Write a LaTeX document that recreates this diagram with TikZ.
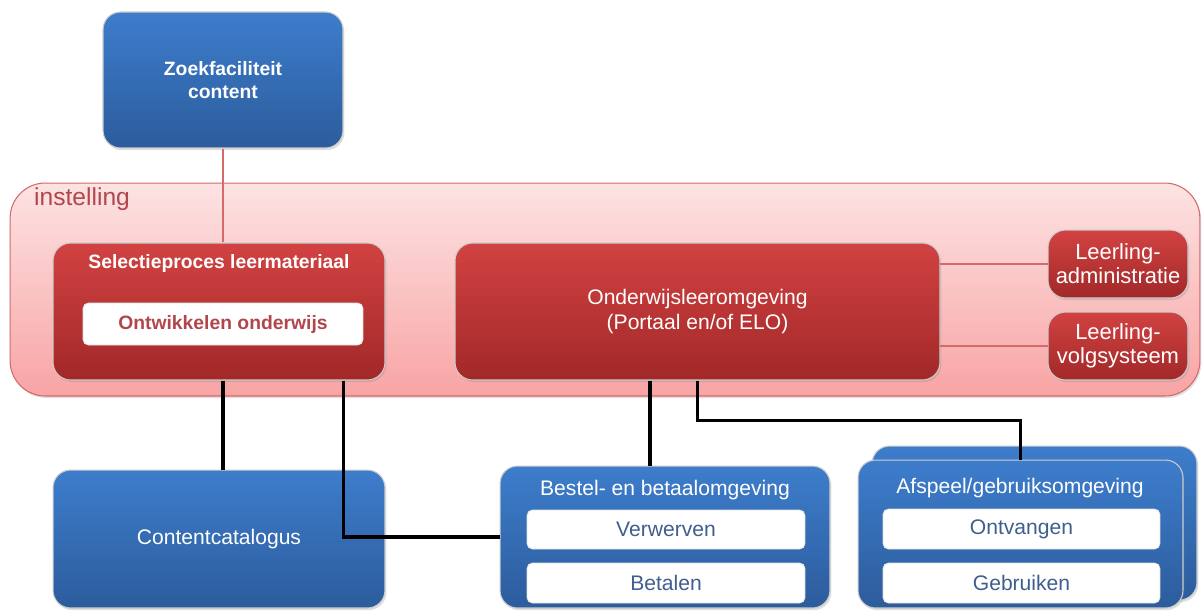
\documentclass[tikz,border=0pt]{standalone}
\usepackage{fontspec}
\setmainfont{Liberation Sans}
\usetikzlibrary{shadows,calc}
\definecolor{bluetop}{HTML}{3D7DCC}
\definecolor{bluebot}{HTML}{2C5C9C}
\definecolor{redtop}{HTML}{D24242}
\definecolor{redbot}{HTML}{A22828}
\definecolor{pinktop}{HTML}{FDE3E3}
\definecolor{pinkbot}{HTML}{F8A4A4}
\definecolor{pinkline}{HTML}{D46A6A}
\definecolor{darkrose}{HTML}{B2464D}
\definecolor{slateblue}{HTML}{3F5F8F}
\tikzset{
  box/.style={rectangle, rounded corners=10pt, draw=white!80!black, line width=0.6pt,
    drop shadow={opacity=0.25,shadow xshift=0.8pt,shadow yshift=-1.2pt}, inner sep=0pt, align=center},
  bluebox/.style={box, top color=bluetop, bottom color=bluebot, text=white},
  redbox/.style={box, top color=redtop, bottom color=redbot, text=white},
  inbox/.style={rectangle, rounded corners=3pt, fill=white, draw=black!12, inner sep=0pt, minimum height=0.8cm},
  boldtxt/.style={font=\bfseries\fontsize{11}{13}\selectfont},
  regtxt/.style={font=\fontsize{12}{14}\selectfont},
  smalltxt/.style={font=\fontsize{12.5}{13.6}\selectfont},
  thinline/.style={pinkline, line width=0.7pt},
  connline/.style={black, line width=1.8pt},
}
\begin{document}
\begin{tikzpicture}[x=0.02cm,y=-0.02cm]
\useasboundingbox (0,0) rectangle (1203,610);
% container
\node[rectangle, rounded corners=20pt, top color=pinktop, bottom color=pinkbot, draw=pinkline, line width=0.6pt,
  drop shadow={opacity=0.25,shadow xshift=0.8pt,shadow yshift=-1.2pt},
  minimum width=23.8cm, minimum height=4.26cm, inner sep=0pt] (inst) at (605,289.5) {};
\node[anchor=west, text=darkrose, font=\fontsize{14}{16}\selectfont] (instt) at (28,199) {instelling};
% top
\node[bluebox, boldtxt, minimum width=4.8cm, minimum height=2.72cm] (zoek) at (223,80) {Zoekfaciliteit\\content};
% selectie
\node[redbox, minimum width=6.64cm, minimum height=2.74cm] (sel) at (219,311.5) {};
\node[boldtxt, text=white] (selt) at (219,263) {Selectieproces leermateriaal};
\node[inbox, boldtxt, text=darkrose, minimum width=5.6cm, minimum height=0.84cm] (ontw) at (223,324) {Ontwikkelen onderwijs};
% onderwijs
\node[redbox, regtxt, minimum width=9.7cm, minimum height=2.74cm] (ond) at (697.5,311.5) {Onderwijsleeromgeving\\(Portaal en/of ELO)};
\node[redbox, smalltxt, minimum width=2.8cm, minimum height=1.36cm] (ladm) at (1118,264) {Leerling-\\administratie};
\node[redbox, smalltxt, minimum width=2.8cm, minimum height=1.36cm] (lvolg) at (1118,346) {Leerling-\\volgsysteem};
% bottom
\node[bluebox, regtxt, minimum width=6.64cm, minimum height=2.76cm] (cc) at (219,539) {Contentcatalogus};
\node[bluebox, minimum width=6.6cm, minimum height=2.84cm] (bes) at (665,537) {};
\node[regtxt, text=white] (best) at (665,490) {Bestel- en betaalomgeving};
\node[inbox, regtxt, text=slateblue, minimum width=5.56cm, minimum height=0.78cm] (verw) at (666,529.5) {Verwerven};
\node[inbox, regtxt, text=slateblue, minimum width=5.56cm, minimum height=0.8cm] (betl) at (666,583) {Betalen};
\node[bluebox, minimum width=6.5cm, minimum height=3.08cm] (afb) at (1034.5,523) {};
\node[bluebox, minimum width=6.5cm, minimum height=2.96cm] (af) at (1020.5,534) {};
\node[regtxt, text=white] (aft) at (1020,488) {Afspeel/gebruiksomgeving};
\node[inbox, regtxt, text=slateblue, minimum width=5.54cm, minimum height=0.8cm] (ontv) at (1021.5,529) {Ontvangen};
\node[inbox, regtxt, text=slateblue, minimum width=5.54cm, minimum height=0.8cm] (gebr) at (1021.5,583) {Gebruiken};
% connector helper points
\coordinate (selout) at ($(sel.south east)+(-42,0)$);
\coordinate (besin) at ($(bes.north)+(-15,0)$);
\coordinate (ondout) at (besin |- ond.south);
% connectors
\draw[thinline] (zoek.south) -- (sel.north -| zoek.south);
\draw[thinline] (ond.east |- ladm.west) -- (ladm.west);
\draw[thinline] (ond.east |- lvolg.west) -- (lvolg.west);
\draw[connline] (sel.south -| zoek.south) -- (cc.north -| zoek.south);
\draw[connline] (selout) |- (bes.west);
\draw[connline] (ondout) -- (besin);
\draw[connline] (ond.south) -- ++(0,40) -| (af.north);
\end{tikzpicture}
\end{document}
